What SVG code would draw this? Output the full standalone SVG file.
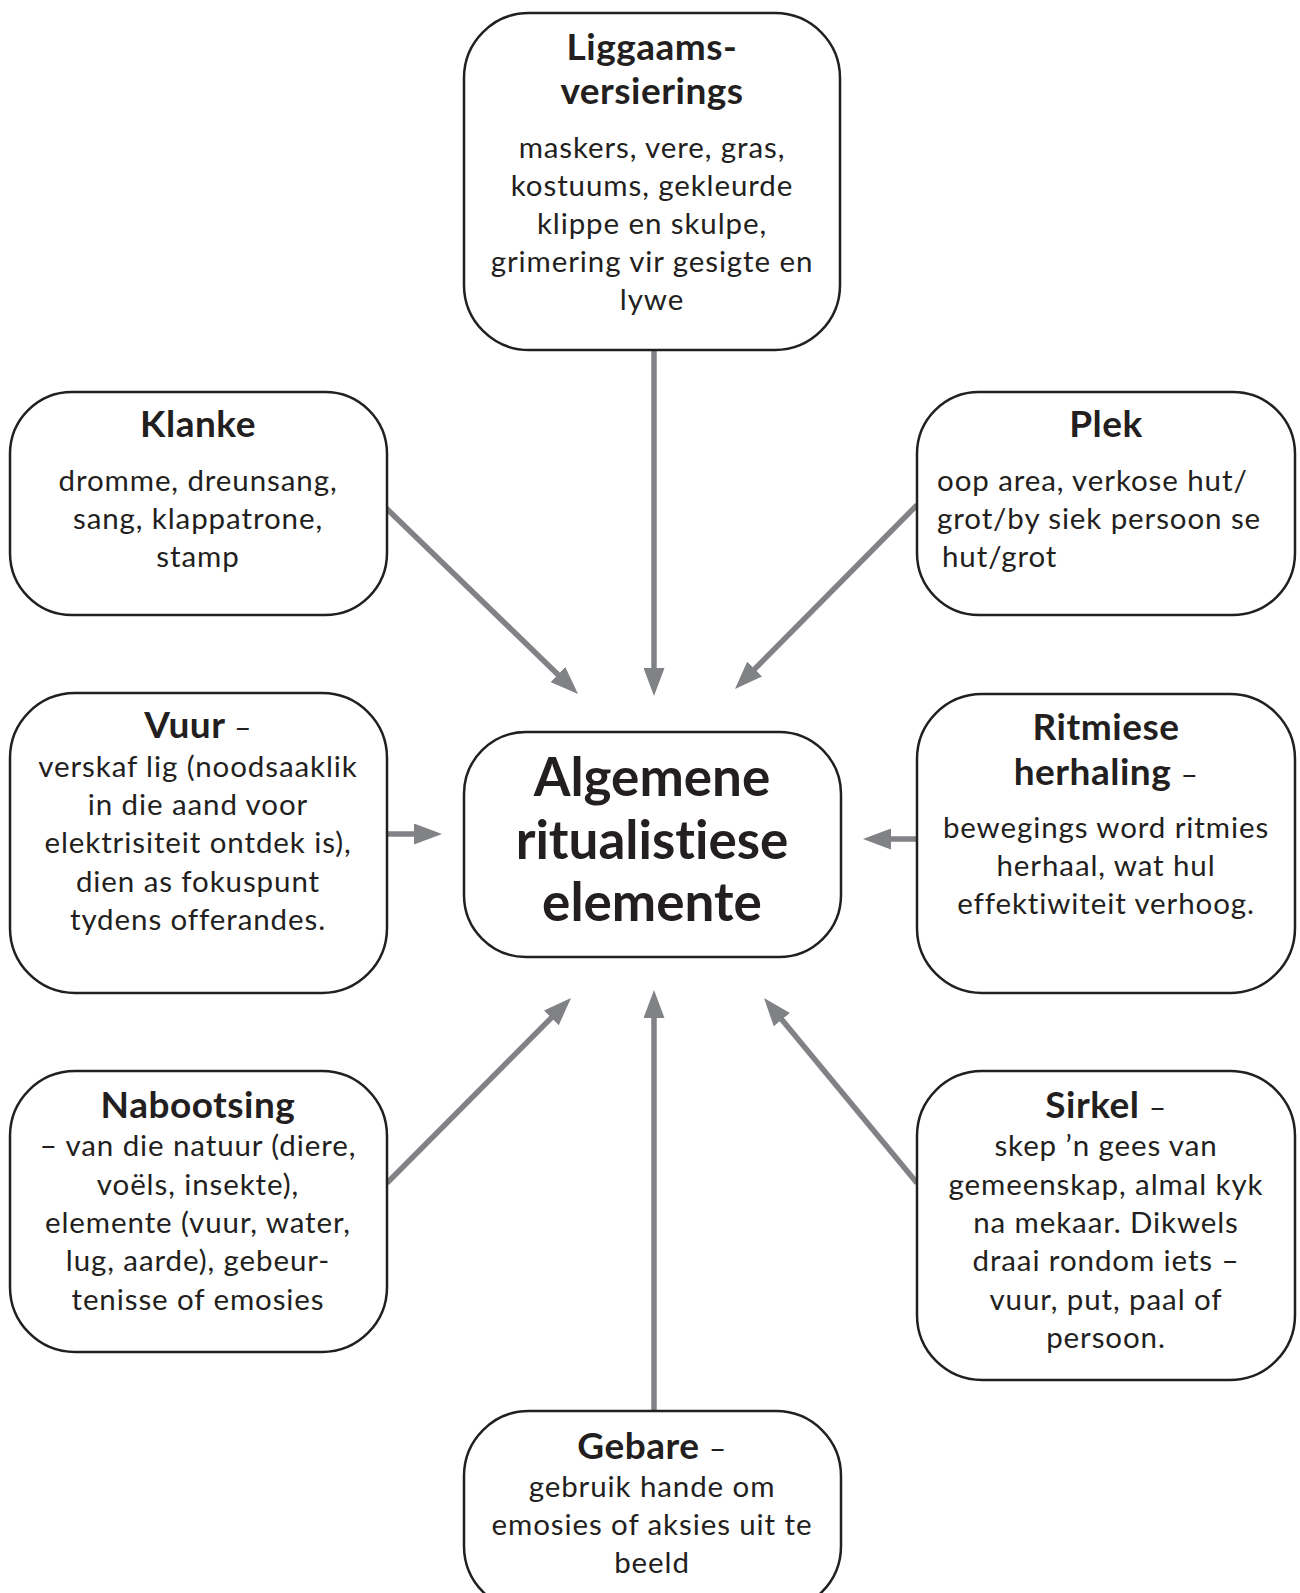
<svg xmlns="http://www.w3.org/2000/svg" width="1300" height="1593" viewBox="0 0 1300 1593">
<style>
.box{fill:#fff;stroke:#231f20;stroke-width:2.5}
text{font-family:Lato,"Liberation Sans",sans-serif;fill:#231f20;text-anchor:middle;font-variant-ligatures:none}
.b{font-size:29.5px;letter-spacing:0.9px}
.t{font-size:37px;font-weight:bold;letter-spacing:0.5px}
.n{font-weight:normal;font-size:29.5px}
.c{font-size:53px;font-weight:bold}
.con{stroke:#808285;stroke-width:5.5;fill:none;marker-end:url(#ah)}
</style>
<defs>
<marker id="ah" markerUnits="userSpaceOnUse" viewBox="0 0 28 21" markerWidth="28" markerHeight="21" refX="20" refY="10.5" orient="auto">
<path d="M0,0 L28,10.5 L0,21 z" fill="#808285"/>
</marker>
</defs>
<g id="connectors">
<line class="con" x1="654" y1="350" x2="654" y2="688"/>
<line class="con" x1="386" y1="508" x2="572.3" y2="688.4"/>
<line class="con" x1="917" y1="505" x2="740.6" y2="683.3"/>
<line class="con" x1="387" y1="834" x2="434" y2="834"/>
<line class="con" x1="917" y1="839" x2="871" y2="839"/>
<line class="con" x1="387" y1="1183" x2="565.4" y2="1003.7"/>
<line class="con" x1="917" y1="1183" x2="769.1" y2="1004.2"/>
<line class="con" x1="654" y1="1411" x2="654" y2="998"/>
</g>
<g id="liggaams">
<rect class="box" x="464" y="13" width="376" height="337" rx="65"/>
<text class="t" x="652" y="60">Liggaams-</text>
<text class="t" x="652" y="104">versierings</text>
<text class="b" x="652" y="158">maskers, vere, gras,</text>
<text class="b" x="652" y="196">kostuums, gekleurde</text>
<text class="b" x="652" y="234">klippe en skulpe,</text>
<text class="b" x="652" y="272">grimering vir gesigte en</text>
<text class="b" x="652" y="310">lywe</text>
</g>
<g id="klanke">
<rect class="box" x="10" y="392" width="377" height="223" rx="62"/>
<text class="t" x="198" y="437">Klanke</text>
<text class="b" x="198" y="491">dromme, dreunsang,</text>
<text class="b" x="198" y="529">sang, klappatrone,</text>
<text class="b" x="198" y="567">stamp</text>
</g>
<g id="plek">
<rect class="box" x="917" y="392" width="378" height="223" rx="62"/>
<text class="t" x="1106" y="437">Plek</text>
<text class="b" x="937" y="491" style="text-anchor:start">oop area, verkose hut/</text>
<text class="b" x="937" y="529" style="text-anchor:start">grot/by siek persoon se</text>
<text class="b" x="942" y="567" style="text-anchor:start">hut/grot</text>
</g>
<g id="vuur">
<rect class="box" x="10" y="693" width="377" height="300" rx="65"/>
<text class="t" x="198" y="738">Vuur <tspan class="n">–</tspan></text>
<text class="b" x="198" y="777">verskaf lig (noodsaaklik</text>
<text class="b" x="198" y="815">in die aand voor</text>
<text class="b" x="198" y="853">elektrisiteit ontdek is),</text>
<text class="b" x="198" y="892">dien as fokuspunt</text>
<text class="b" x="198" y="930">tydens offerandes.</text>
</g>
<g id="sentraal">
<rect class="box" x="464" y="732" width="377" height="225" rx="62"/>
<text class="c" x="652" y="796">Algemene</text>
<text class="c" x="652" y="859">ritualistiese</text>
<text class="c" x="652" y="921">elemente</text>
</g>
<g id="ritmiese">
<rect class="box" x="917" y="694" width="378" height="299" rx="65"/>
<text class="t" x="1106" y="740">Ritmiese</text>
<text class="t" x="1106" y="785">herhaling <tspan class="n">–</tspan></text>
<text class="b" x="1106" y="838">bewegings word ritmies</text>
<text class="b" x="1106" y="876">herhaal, wat hul</text>
<text class="b" x="1106" y="914">effektiwiteit verhoog.</text>
</g>
<g id="nabootsing">
<rect class="box" x="10" y="1071" width="377" height="281" rx="65"/>
<text class="t" x="198" y="1118">Nabootsing</text>
<text class="b" x="198" y="1156">– van die natuur (diere,</text>
<text class="b" x="198" y="1195">voëls, insekte),</text>
<text class="b" x="198" y="1233">elemente (vuur, water,</text>
<text class="b" x="198" y="1271">lug, aarde), gebeur-</text>
<text class="b" x="198" y="1310">tenisse of emosies</text>
</g>
<g id="sirkel">
<rect class="box" x="917" y="1071" width="378" height="309" rx="65"/>
<text class="t" x="1106" y="1118">Sirkel <tspan class="n">–</tspan></text>
<text class="b" x="1106" y="1156">skep ’n gees van</text>
<text class="b" x="1106" y="1195">gemeenskap, almal kyk</text>
<text class="b" x="1106" y="1233">na mekaar. Dikwels</text>
<text class="b" x="1106" y="1271">draai rondom iets –</text>
<text class="b" x="1106" y="1310">vuur, put, paal of</text>
<text class="b" x="1106" y="1348">persoon.</text>
</g>
<g id="gebare">
<rect class="box" x="464" y="1411" width="377" height="200" rx="65"/>
<text class="t" x="652" y="1459">Gebare <tspan class="n">–</tspan></text>
<text class="b" x="652" y="1497">gebruik hande om</text>
<text class="b" x="652" y="1535">emosies of aksies uit te</text>
<text class="b" x="652" y="1573">beeld</text>
</g>
</svg>
